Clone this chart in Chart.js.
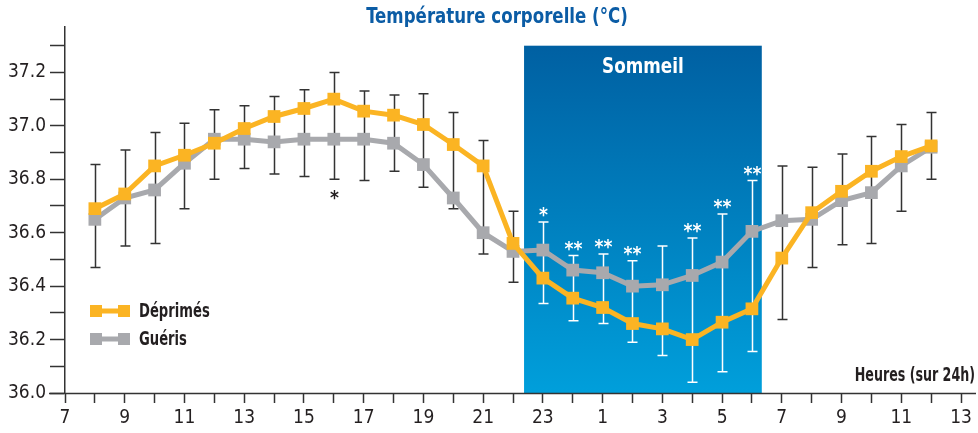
<!DOCTYPE html>
<html>
<head>
<meta charset="utf-8">
<script src="https://cdn.jsdelivr.net/npm/chart.js@4"></script>
<style>
  html, body { margin: 0; padding: 0; background: #fff; }
</style>
</head>
<body>
<canvas id="myChartTemp" width="978" height="433"></canvas>
<script>
// heures : 8h -> 12h le lendemain (24+12 = 36)
const hours = [8, 9, 10, 11, 12, 13, 14, 15, 16, 17, 18, 19, 20, 21, 22, 23, 24, 25, 26, 27, 28, 29, 30, 31, 32, 33, 34, 35, 36];
const deprimes = [36.69, 36.745, 36.85, 36.89, 36.935, 36.99, 37.035, 37.065, 37.10, 37.055, 37.04, 37.005, 36.93, 36.85, 36.56, 36.43, 36.355, 36.32, 36.26, 36.24, 36.20, 36.265, 36.315, 36.505, 36.675, 36.755, 36.83, 36.885, 36.925];
const gueris = [36.65, 36.73, 36.76, 36.86, 36.95, 36.95, 36.94, 36.95, 36.95, 36.95, 36.935, 36.855, 36.73, 36.60, 36.53, 36.535, 36.46, 36.45, 36.40, 36.405, 36.44, 36.49, 36.605, 36.645, 36.65, 36.72, 36.75, 36.85, 36.92];
const errHigh = [36.855, 36.91, 36.975, 37.01, 37.06, 37.075, 37.11, 37.135, 37.20, 37.13, 37.115, 37.12, 37.05, 36.945, 36.68, 36.64, 36.515, 36.52, 36.495, 36.55, 36.58, 36.67, 36.795, 36.85, 36.845, 36.895, 36.96, 37.005, 37.05];
const errLow = [36.47, 36.55, 36.56, 36.69, 36.80, 36.84, 36.82, 36.81, 36.80, 36.795, 36.83, 36.77, 36.69, 36.52, 36.415, 36.335, 36.27, 36.26, 36.19, 36.14, 36.04, 36.08, 36.155, 36.275, 36.47, 36.555, 36.56, 36.68, 36.80];
const stars = ['', '', '', '', '', '', '', '', '*', '', '', '', '', '', '', '*', '**', '**', '**', '', '**', '**', '**', '', '', '', '', '', ''];
const starBelow = ['', '', '', '', '', '', '', '', 'y', '', '', '', '', '', '', '', '', '', '', '', '', '', '', '', '', '', '', '', ''];
const sleepStart = 22.37;
const sleepEnd = 30.33;
const sleepTop = 37.3;

const xTicks = [7, 8, 9, 10, 11, 12, 13, 14, 15, 16, 17, 18, 19, 20, 21, 22, 23, 24, 25, 26, 27, 28, 29, 30, 31, 32, 33, 34, 35, 36, 37];
const xTickLabels = ['7', '', '9', '', '11', '', '13', '', '15', '', '17', '', '19', '', '21', '', '23', '', '1', '', '3', '', '5', '', '7', '', '9', '', '11', '', '13'];
const yTicks = [36.0, 36.1, 36.2, 36.3, 36.4, 36.5, 36.6, 36.7, 36.8, 36.9, 37.0, 37.1, 37.2, 37.3];
const yTickLabels = ['36.0', '', '36.2', '', '36.4', '', '36.6', '', '36.8', '', '37.0', '', '37.2', ''];

const ORANGE = '#FBB423';
const GRAY = '#A8A9AD';
const INK = '#231F20';
const NARROW = '"DejaVu Sans Condensed", "Liberation Sans", sans-serif';

// texte compressé horizontalement (police condensée)
function narrowText(ctx, text, x, y, font, sx, align) {
    ctx.save();
    ctx.font = font;
    ctx.textAlign = align;
    ctx.textBaseline = 'middle';
    ctx.translate(x, y);
    ctx.scale(sx, 1);
    ctx.fillText(text, 0, 0);
    ctx.restore();
}

const decorPlugin = {
    id: 'decor',
    beforeDatasetsDraw(chart) {
        const { ctx, scales: { x, y } } = chart;
        // bande sommeil
        const x0 = x.getPixelForValue(sleepStart);
        const x1 = x.getPixelForValue(sleepEnd);
        const y0 = y.getPixelForValue(sleepTop);
        const y1 = y.getPixelForValue(36.0);
        const grad = ctx.createLinearGradient(0, y0, 0, y1);
        grad.addColorStop(0, '#0060A2');
        grad.addColorStop(1, '#009FDB');
        ctx.save();
        ctx.fillStyle = grad;
        ctx.fillRect(x0, y0, x1 - x0, y1 - y0);

        ctx.fillStyle = '#fff';
        narrowText(ctx, 'Sommeil', (x0 + x1) / 2, y0 + 22, 'bold 22px ' + NARROW, 0.85, 'center');

        // barres d'erreur
        ctx.lineWidth = 1.5;
        hours.forEach((h, i) => {
            const px = Math.round(x.getPixelForValue(h)) + 0.5;
            const pt = y.getPixelForValue(errHigh[i]);
            const pb = y.getPixelForValue(errLow[i]);
            const inside = h > sleepStart && h < sleepEnd;
            ctx.strokeStyle = inside ? '#fff' : '#333';
            ctx.beginPath();
            ctx.moveTo(px, pt); ctx.lineTo(px, pb);
            ctx.moveTo(px - 5, pt); ctx.lineTo(px + 5, pt);
            ctx.moveTo(px - 5, pb); ctx.lineTo(px + 5, pb);
            ctx.stroke();

            if (stars[i]) {
                ctx.fillStyle = inside ? '#fff' : INK;
                const font = 'bold 20px ' + NARROW;
                if (starBelow[i]) {
                    narrowText(ctx, stars[i], px, pb + 20, font, 0.95, 'center');
                } else {
                    narrowText(ctx, stars[i], px, pt - 6, font, 0.95, 'center');
                }
            }
        });
        ctx.restore();
    },
    afterDraw(chart) {
        const { ctx, chartArea } = chart;
        ctx.save();
        // axe x prolongé
        ctx.strokeStyle = '#333';
        ctx.lineWidth = 1.5;
        ctx.beginPath();
        ctx.moveTo(chartArea.left - 16, chartArea.bottom + 0.5);
        ctx.lineTo(chartArea.right + 15, chartArea.bottom + 0.5);
        ctx.stroke();

        // titre
        ctx.fillStyle = '#0B5CA5';
        narrowText(ctx, 'Température corporelle (°C)', 497, 17, 'bold 22px ' + NARROW, 0.84, 'center');

        // titre axe x
        ctx.fillStyle = INK;
        narrowText(ctx, 'Heures (sur 24h)', 975, 376, 'bold 19px ' + NARROW, 0.74, 'right');

        // légende
        const items = [['Déprimés', ORANGE, 311], ['Guéris', GRAY, 339]];
        items.forEach(([label, color, ly]) => {
            ctx.strokeStyle = color;
            ctx.lineWidth = 5;
            ctx.beginPath();
            ctx.moveTo(92, ly); ctx.lineTo(128, ly);
            ctx.stroke();
            ctx.fillStyle = color;
            ctx.fillRect(90, ly - 6, 12, 12);
            ctx.fillRect(118, ly - 6, 12, 12);
            ctx.fillStyle = INK;
            narrowText(ctx, label, 139, ly + 1, 'bold 19px ' + NARROW, 0.77, 'left');
        });
        ctx.restore();
    }
};

const ctx = document.getElementById('myChartTemp').getContext('2d');
const chart = new Chart(ctx, {
    type: 'line',
    data: {
        datasets: [{
            label: 'Déprimés',
            data: hours.map((h, i) => ({ x: h, y: deprimes[i] })),
            borderColor: ORANGE,
            backgroundColor: ORANGE,
            borderWidth: 5,
            pointStyle: 'rect',
            pointRadius: 9,
            pointBorderWidth: 0,
            tension: 0,
            order: 0
        }, {
            label: 'Guéris',
            data: hours.map((h, i) => ({ x: h, y: gueris[i] })),
            borderColor: GRAY,
            backgroundColor: GRAY,
            borderWidth: 5,
            pointStyle: 'rect',
            pointRadius: 9,
            pointBorderWidth: 0,
            tension: 0,
            order: 1
        }]
    },
    options: {
        responsive: false,
        animation: false,
        devicePixelRatio: 1,
        layout: { padding: { top: 27, right: 17, left: 0, bottom: 0 } },
        plugins: {
            legend: { display: false },
            tooltip: { enabled: false }
        },
        scales: {
            x: {
                type: 'linear',
                min: 7,
                max: 37,
                afterBuildTicks: (s) => { s.ticks = xTicks.map(v => ({ value: v })); },
                afterFit: (s) => { s.height = 40; },
                ticks: {
                    autoSkip: false,
                    maxRotation: 0,
                    padding: 4,
                    color: INK,
                    font: { family: NARROW, size: 19 },
                    callback: (v, i) => xTickLabels[i]
                },
                grid: { drawOnChartArea: false, tickLength: 10, tickColor: '#333', tickWidth: 1.5 },
                border: { display: false }
            },
            y: {
                min: 36.0,
                max: 37.37,
                afterBuildTicks: (s) => { s.ticks = yTicks.map(v => ({ value: v })); },
                afterFit: (s) => { s.width = 65; },
                ticks: {
                    autoSkip: false,
                    padding: 4,
                    color: INK,
                    font: { family: NARROW, size: 19 },
                    callback: (v, i) => yTickLabels[i]
                },
                grid: { drawOnChartArea: false, tickLength: 15, tickColor: '#333', tickWidth: 1.5 },
                border: { color: '#333', width: 1.5 }
            }
        }
    },
    plugins: [decorPlugin]
});
</script>
</body>
</html>
